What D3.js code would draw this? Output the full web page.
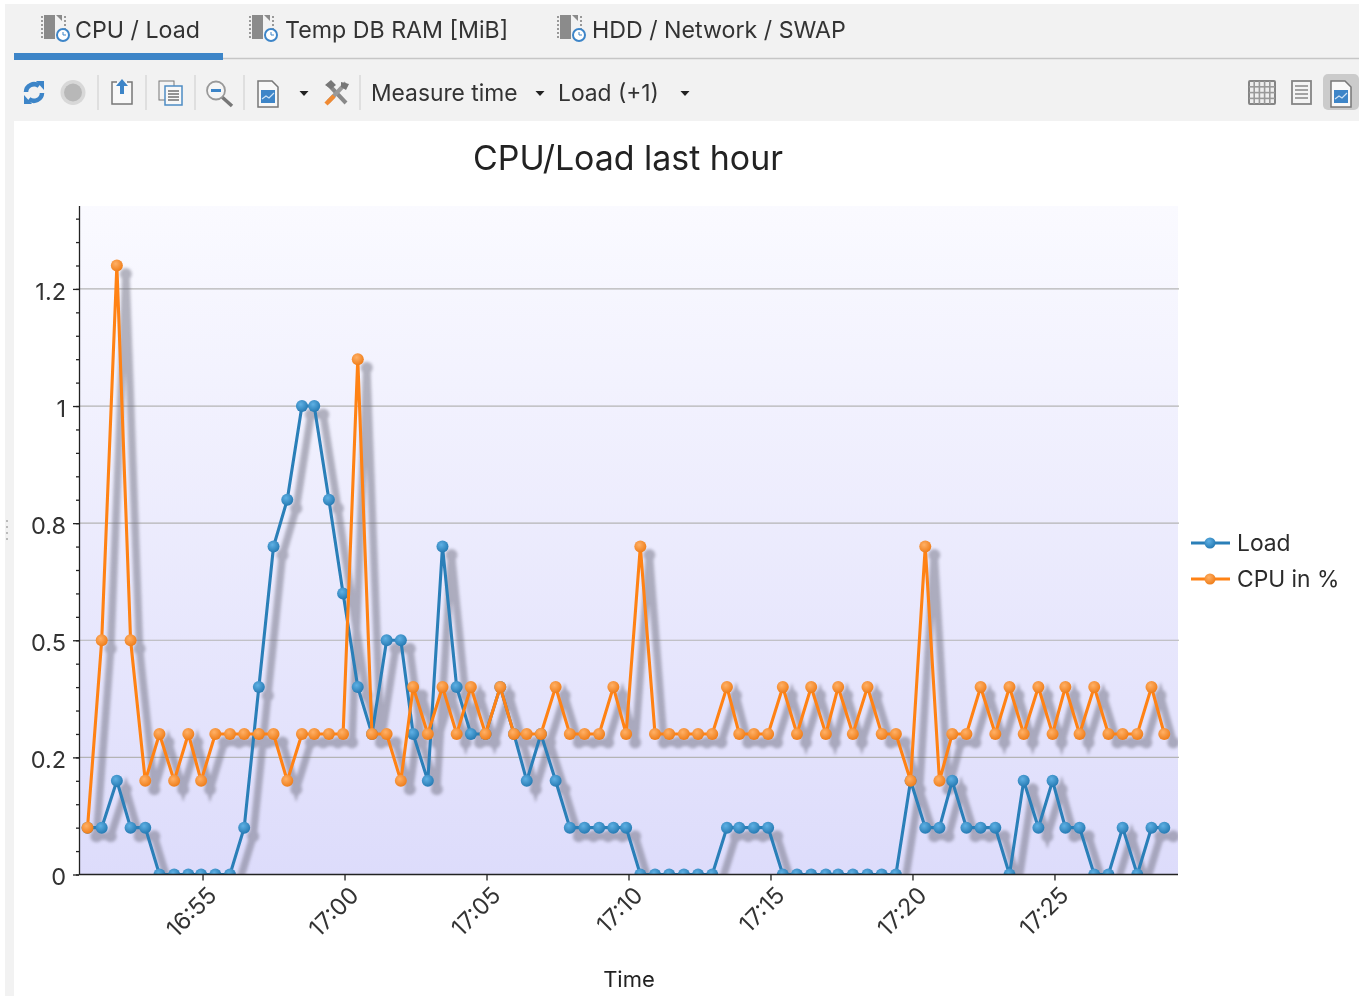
<!DOCTYPE html>
<html>
<head>
<meta charset="utf-8">
<style>
html, body { margin: 0; padding: 0; background: #fff; overflow: hidden; }
text { font-family: Inter, "Noto Sans", sans-serif; fill: #2b2b2b; }
svg { filter: blur(0.45px); }
</style>
<script src="https://cdn.jsdelivr.net/npm/d3@7"></script>
</head>
<body>
<div id="graphsvg"></div>
<script>
var times = ["16:50:57","16:51:27","16:51:59","16:52:28","16:52:59","16:53:29","16:54:00","16:54:30","16:54:57","16:55:27",
	"16:55:58","16:56:28","16:56:59","16:57:30","16:57:59","16:58:30","16:58:56","16:59:27","16:59:57","17:00:28",
	"17:00:58","17:01:29","17:01:59","17:02:25","17:02:56","17:03:27","17:03:57","17:04:27","17:04:58","17:05:29",
	"17:05:58","17:06:25","17:06:55","17:07:26","17:07:56","17:08:27","17:08:58","17:09:28","17:09:55","17:10:25",
	"17:10:56","17:11:26","17:11:57","17:12:27","17:12:57","17:13:28","17:13:54","17:14:25","17:14:55","17:15:26",
	"17:15:56","17:16:26","17:16:57","17:17:23","17:17:54","17:18:25","17:18:55","17:19:25","17:19:56","17:20:27",
	"17:20:57","17:21:24","17:21:54","17:22:24","17:22:55","17:23:25","17:23:55","17:24:26","17:24:56","17:25:23",
	"17:25:53","17:26:24","17:26:54","17:27:24","17:27:55","17:28:25","17:28:52"];

var load = [.1,.1,.2,.1,.1,0,0,0,0,0,
	0,.1,.4,.7,.8,1,1,.8,.6,.4,
	.3,.5,.5,.3,.2,.7,.4,.3,.3,.4,
	.3,.2,.3,.2,.1,.1,.1,.1,.1,0,
	0,0,0,0,0,.1,.1,.1,.1,0,
	0,0,0,0,0,0,0,0,.2,.1,
	.1,.2,.1,.1,.1,0,.2,.1,.2,.1,
	.1,0,0,.1,0,.1,.1];

var cpu = [.1,.5,1.3,.5,.2,.3,.2,.3,.2,.3,
	.3,.3,.3,.3,.2,.3,.3,.3,.3,1.1,
	.3,.3,.2,.4,.3,.4,.3,.4,.3,.4,
	.3,.3,.3,.4,.3,.3,.3,.4,.3,.7,
	.3,.3,.3,.3,.3,.4,.3,.3,.3,.4,
	.3,.4,.3,.4,.3,.4,.3,.3,.2,.7,
	.2,.3,.3,.4,.3,.4,.3,.4,.3,.4,
	.3,.4,.3,.3,.3,.4,.3];

var y_ticks = [0, .25, .5, .75, 1, 1.25];
var y_labels = ["0", "0.2", "0.5", "0.8", "1", "1.2"];
var tabs = ["CPU / Load", "Temp DB RAM [MiB]", "HDD / Network / SWAP"];

var parse_time = d3.timeParse("%H:%M:%S");
var format_time = d3.timeFormat("%H:%M");

var width = 1365;
var height = 996;
var left_sc = 79;
var right_sc = 1178;
var top_sc = 206;
var bottom_sc = 874.5;

var svg = d3
	.select("#graphsvg")
	.append("svg")
	.attr("width", width)
	.attr("height", height)
	.style("display", "block");

var defs = svg.append("defs");

var bg_grad = defs.append("linearGradient").attr("id", "plotbg").attr("x1", 0).attr("y1", 0).attr("x2", 0).attr("y2", 1);
bg_grad.append("stop").attr("offset", "0%").attr("stop-color", "#fafaff");
bg_grad.append("stop").attr("offset", "100%").attr("stop-color", "#dddcfb");

defs.append("filter").attr("id", "soft").attr("x", "-5%").attr("y", "-5%").attr("width", "110%").attr("height", "110%")
	.append("feGaussianBlur").attr("stdDeviation", 1.6);

defs.append("clipPath").attr("id", "plotclip").append("rect")
	.attr("x", left_sc).attr("y", top_sc)
	.attr("width", right_sc - left_sc).attr("height", bottom_sc - top_sc);

function ball(id, light, dark) {
	var g = defs.append("radialGradient").attr("id", id).attr("cx", "40%").attr("cy", "35%").attr("r", "70%");
	g.append("stop").attr("offset", "0%").attr("stop-color", light);
	g.append("stop").attr("offset", "100%").attr("stop-color", dark);
}
ball("ball_load", "#5fb0e4", "#2277b0");
ball("ball_cpu", "#ffb066", "#ee7a14");

//-----------------------------------------------------------------------------------------
// window chrome
svg.append("rect").attr("x", 5).attr("y", 4).attr("width", 1354).attr("height", 992).style("fill", "#f2f2f2");
svg.append("rect").attr("x", 14).attr("y", 121).attr("width", 1351).attr("height", 875).style("fill", "#ffffff");

svg.append("line").attr("x1", 14).attr("x2", 1359).attr("y1", 58.5).attr("y2", 58.5).style("stroke", "#c6c6c6").style("stroke-width", 1.5);
svg.append("rect").attr("x", 14).attr("y", 53).attr("width", 209).attr("height", 7).style("fill", "#3d85c8");

var tab_x = [75, 285, 592];
var tab_icon_x = [42, 250, 558];
for (var i = 0; i < tabs.length; i++) {
	svg.append("text").text(tabs[i]).attr("x", tab_x[i]).attr("y", 38).style("font-size", "23.2px").style("fill", "#333");
	chip_icon(tab_icon_x[i], 14);
}

function chip_icon(x, y) {
	svg.append("rect").attr("x", x + 2).attr("y", y + 1).attr("width", 18).attr("height", 24).style("fill", "#8b8b8b");
	svg.append("path").attr("d", "M" + (x + 13) + " " + y + "l9 9v17h-9z").style("fill", "#f2f2f2");
	svg.append("path").attr("d", "M" + (x) + " " + (y + 2) + "v24M" + (x + 23) + " " + (y + 2) + "v24")
		.style("stroke", "#999").style("stroke-width", 2).style("stroke-dasharray", "2 2");
	svg.append("circle").attr("cx", x + 21).attr("cy", y + 21).attr("r", 6).style("fill", "#fff").style("stroke", "#3d85c8").style("stroke-width", 2);
	svg.append("path").attr("d", "M" + (x + 21) + " " + (y + 18) + "v3h3").style("fill", "none").style("stroke", "#3d85c8").style("stroke-width", 1);
}

// toolbar separators
var seps = [98, 146, 195, 244, 360];
seps.forEach(function (s) {
	svg.append("line").attr("x1", s).attr("x2", s).attr("y1", 75).attr("y2", 110).style("stroke", "#d2d2d2").style("stroke-width", 1.2);
});

// refresh
svg.append("path").attr("d", "M26 92a8 8 0 0 1 13 -6M42 93a8 8 0 0 1 -13 6").style("fill", "none").style("stroke", "#3d85c8").style("stroke-width", 4.5);
svg.append("path").attr("d", "M36 81l8 0l0 9zM32 104l-8 0l0 -9z").style("fill", "#3d85c8");
// stop
svg.append("circle").attr("cx", 73).attr("cy", 92.5).attr("r", 12.5).style("fill", "#d8d8d8");
svg.append("circle").attr("cx", 73).attr("cy", 92.5).attr("r", 9).style("fill", "#b8b8b8");
// export
svg.append("path").attr("d", "M117 82h-5v22h20v-22h-5").style("fill", "#f8f8f8").style("stroke", "#777").style("stroke-width", 1.5);
svg.append("path").attr("d", "M122 79l6 7h-4v8h-4v-8h-4z").style("fill", "#3d85c8");
// copy
svg.append("rect").attr("x", 159).attr("y", 81).attr("width", 15).attr("height", 19).style("fill", "#f4f4f4").style("stroke", "#777");
svg.append("rect").attr("x", 165).attr("y", 86).attr("width", 17).attr("height", 19).style("fill", "#f8f8f8").style("stroke", "#4d8cc4").style("stroke-width", 1.5);
[91, 94, 97, 100].forEach(function (l) {
	svg.append("line").attr("x1", 168).attr("x2", 179).attr("y1", l).attr("y2", l).style("stroke", "#666").style("stroke-width", 1.4);
});
// zoom out
svg.append("line").attr("x1", 222).attr("x2", 232).attr("y1", 97).attr("y2", 106).style("stroke", "#777").style("stroke-width", 3.5);
svg.append("circle").attr("cx", 216).attr("cy", 90.5).attr("r", 9).style("fill", "#f6f6f6").style("stroke", "#999").style("stroke-width", 1.8);
svg.append("rect").attr("x", 211).attr("y", 89).attr("width", 10).attr("height", 3).style("fill", "#3d85c8");

function page_icon(x, y) {
	svg.append("path").attr("d", "M" + x + " " + y + "h14l6 6v20h-20z").style("fill", "#f8f8f8").style("stroke", "#777").style("stroke-width", 1.5);
	svg.append("rect").attr("x", x + 3).attr("y", y + 9).attr("width", 14).attr("height", 13).style("fill", "#3d85c8");
	svg.append("path").attr("d", "M" + (x + 4) + " " + (y + 18) + "l4 -3l3 2l5 -5").style("fill", "none").style("stroke", "#cfe3f5").style("stroke-width", 1.2);
}
page_icon(258, 81);

function arrow_down(x, y) {
	svg.append("path").attr("d", "M" + (x - 4.5) + " " + y + "h9l-4.5 5z").style("fill", "#222");
}
arrow_down(304, 91);
arrow_down(540, 91);
arrow_down(685, 91);

// tools
svg.append("path").attr("d", "M328 84l18 19").style("stroke", "#888").style("stroke-width", 4);
svg.append("path").attr("d", "M346 83l-18 19").style("stroke", "#999").style("stroke-width", 4);
svg.append("path").attr("d", "M326 104l8 -8").style("stroke", "#f08a32").style("stroke-width", 4.5);
svg.append("path").attr("d", "M325 85l6 -5l5 5l-5 4zM341 82l8 2l-3 6l-5 -3z").style("fill", "#777");

svg.append("text").text("Measure time").attr("x", 371).attr("y", 101).style("font-size", "22.8px").style("fill", "#333");
svg.append("text").text("Load (+1)").attr("x", 558).attr("y", 101).style("font-size", "22.8px").style("fill", "#333");

// right view buttons
svg.append("rect").attr("x", 1323).attr("y", 74).attr("width", 36).attr("height", 36).attr("rx", 5).style("fill", "#cbcbcb");
svg.append("rect").attr("x", 1249).attr("y", 81).attr("width", 26).attr("height", 23).attr("rx", 1).style("fill", "#eee").style("stroke", "#858585").style("stroke-width", 2);
[1, 2, 3, 4].forEach(function (k) {
	svg.append("line").attr("x1", 1249 + k * 5.2).attr("x2", 1249 + k * 5.2).attr("y1", 81).attr("y2", 104).style("stroke", "#999").style("stroke-width", 1.6);
});
[1, 2, 3].forEach(function (k) {
	svg.append("line").attr("x1", 1249).attr("x2", 1275).attr("y1", 81 + k * 5.8).attr("y2", 81 + k * 5.8).style("stroke", "#999").style("stroke-width", 1.6);
});
svg.append("rect").attr("x", 1292).attr("y", 81).attr("width", 19).attr("height", 23).style("fill", "#f4f4f4").style("stroke", "#858585").style("stroke-width", 1.8);
[86, 90, 94, 98].forEach(function (l) {
	svg.append("line").attr("x1", 1295).attr("x2", 1308).attr("y1", l).attr("y2", l).style("stroke", "#777").style("stroke-width", 1.3);
});
page_icon(1331, 81);

// separator grip on the left
[520, 526, 532, 538].forEach(function (l) {
	svg.append("rect").attr("x", 6).attr("y", l).attr("width", 2).attr("height", 2).style("fill", "#bbb");
});

//-----------------------------------------------------------------------------------------
// chart
var x = d3.scaleTime()
	.domain([parse_time("16:50:39"), parse_time("17:29:21")])
	.range([left_sc, right_sc]);

var y = d3.scaleLinear()
	.domain([0, 1.427])
	.range([bottom_sc, top_sc]);

svg.append("text").text("CPU/Load last hour")
	.attr("x", 628).attr("y", 170).attr("text-anchor", "middle")
	.style("font-size", "33.9px").style("fill", "#222");

svg.append("rect").attr("x", left_sc).attr("y", top_sc)
	.attr("width", right_sc - left_sc).attr("height", bottom_sc - top_sc)
	.style("fill", "url(#plotbg)");

// grid lines
y_ticks.slice(1).forEach(function (t) {
	svg.append("line")
		.attr("x1", left_sc).attr("x2", right_sc + 1)
		.attr("y1", y(t)).attr("y2", y(t))
		.style("stroke", "#b4b4b4").style("stroke-width", 1.2);
});

var rows = times.map(function (t, i) {
	return { time: parse_time(t), load: load[i], cpu: cpu[i] };
});

var plot = svg.append("g").attr("clip-path", "url(#plotclip)");

function line_for(key) {
	return d3.line()
		.x(function (d) { return x(d.time); })
		.y(function (d) { return y(d[key]); });
}

function add_dots(parent, key, r, fill) {
	parent.append("g").selectAll("circle").data(rows).enter().append("circle")
		.attr("cx", function (d) { return x(d.time); })
		.attr("cy", function (d) { return y(d[key]); })
		.attr("r", r)
		.style("fill", fill);
}

// shadows first, they sit under both series
var shadow = plot.append("g")
	.attr("transform", "translate(9,8.5)")
	.attr("filter", "url(#soft)")
	.style("opacity", 0.5);

["load", "cpu"].forEach(function (key) {
	shadow.append("path").datum(rows)
		.attr("d", line_for(key))
		.style("fill", "none")
		.style("stroke", "#6f6f80")
		.style("stroke-width", 7.5);
	add_dots(shadow, key, 6, "#6f6f80");
});

function draw_series(key, col, ball_id) {
	plot.append("path").datum(rows)
		.attr("d", line_for(key))
		.style("fill", "none")
		.style("stroke", col)
		.style("stroke-width", 3.1);
	add_dots(plot, key, 6, "url(#" + ball_id + ")");
}
draw_series("load", "#2a7fb8", "ball_load");
draw_series("cpu", "#ff8214", "ball_cpu");

// y axis
var minor_ticks = d3.range(0, 29).map(function (k) { return k * 0.05; });
var y_axis = svg.append("g")
	.attr("transform", "translate(" + left_sc + ",0)")
	.call(d3.axisLeft(y).tickValues(minor_ticks).tickSize(3).tickFormat(""));
y_axis.selectAll("path, line").style("stroke", "#222").style("stroke-width", 1.3);
y_axis.select("path").attr("d", "M0.5," + (top_sc) + "V" + bottom_sc);

var y_major = svg.append("g")
	.attr("transform", "translate(" + left_sc + ",0)")
	.call(d3.axisLeft(y).tickValues(y_ticks).tickSize(6).tickPadding(7)
		.tickFormat(function (d, i) { return y_labels[i]; }));
y_major.select("path").remove();
y_major.selectAll("line").style("stroke", "#222").style("stroke-width", 1.3);
y_major.selectAll("text").style("font-size", "23.5px").style("font-family", "Inter, sans-serif").style("fill", "#333")
	.attr("dy", "0.44em");

// x axis
var x_axis = svg.append("g")
	.attr("transform", "translate(0," + bottom_sc + ")")
	.call(d3.axisBottom(x).ticks(d3.timeMinute.every(5)).tickSize(6).tickPadding(4).tickFormat(format_time));
x_axis.select("path").attr("d", "M" + left_sc + ",0H" + right_sc).style("stroke", "#222").style("stroke-width", 1.3);
x_axis.selectAll("line").style("stroke", "#222").style("stroke-width", 1.3);
x_axis.selectAll("text")
	.style("font-size", "23.5px").style("font-family", "Inter, sans-serif").style("fill", "#333")
	.attr("text-anchor", "end")
	.attr("dx", "-5")
	.attr("dy", "16.5")
	.attr("transform", "rotate(-45)");

svg.append("text").text("Time")
	.attr("x", 629).attr("y", 987).attr("text-anchor", "middle")
	.style("font-size", "22px").style("fill", "#222");

// legend
var legend_names = ["Load", "CPU in %"];
var legend_cols = ["#2a7fb8", "#ff8214"];
var legend_balls = ["ball_load", "ball_cpu"];
for (var j = 0; j < legend_names.length; j++) {
	var ly = 543 + j * 36;
	svg.append("line").attr("x1", 1191).attr("x2", 1230).attr("y1", ly).attr("y2", ly)
		.style("stroke", legend_cols[j]).style("stroke-width", 2.9);
	svg.append("circle").attr("cx", 1210).attr("cy", ly).attr("r", 5.5).style("fill", "url(#" + legend_balls[j] + ")");
	svg.append("text").text(legend_names[j]).attr("x", 1237).attr("y", ly + 8)
		.style("font-size", "22.8px").style("fill", "#2b2b2b");
}
</script>
</body>
</html>
